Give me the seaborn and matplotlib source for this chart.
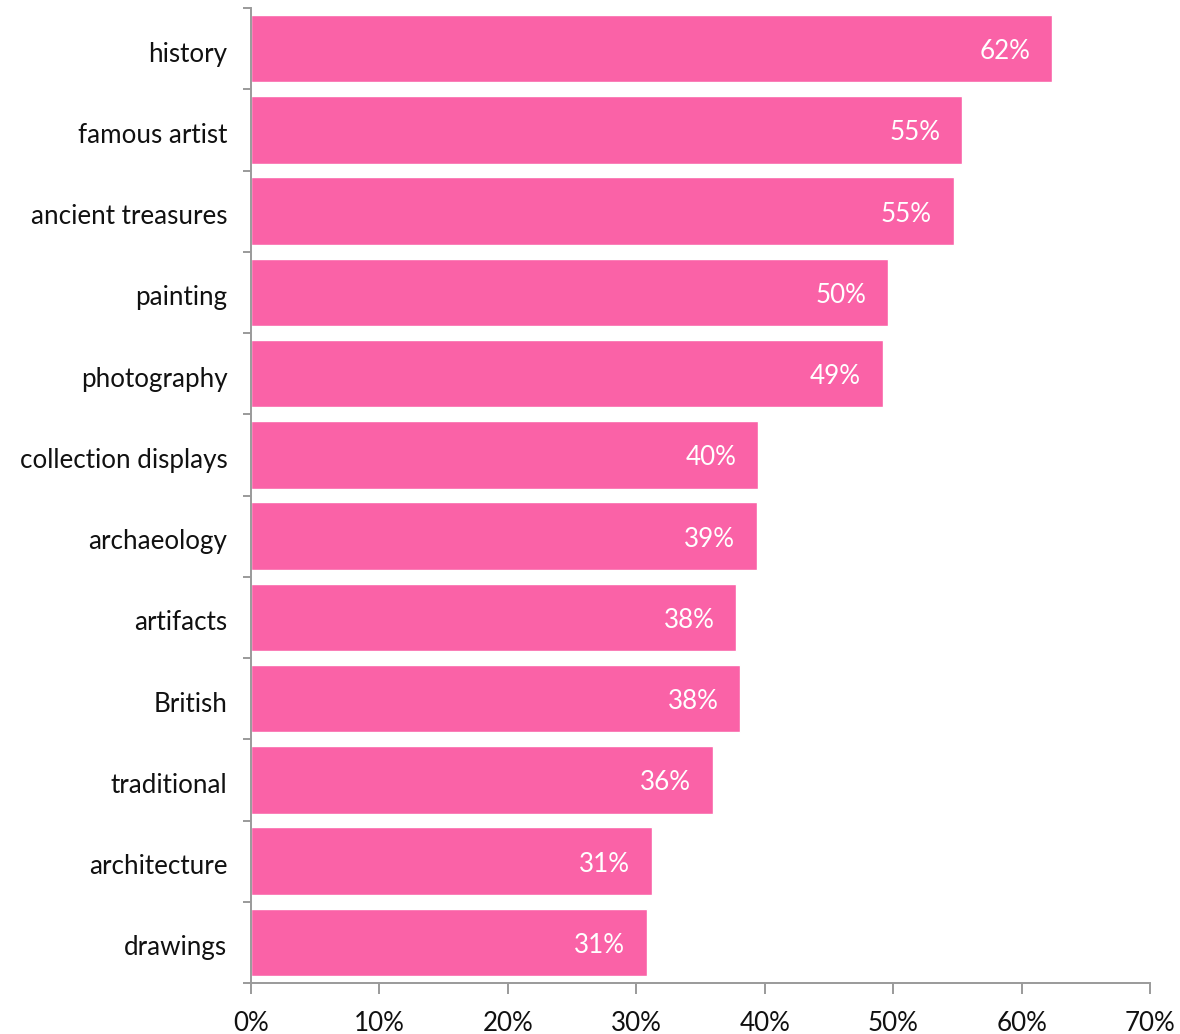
import matplotlib
matplotlib.use("Agg")
import matplotlib.pyplot as plt
import matplotlib.transforms as mtransforms
import seaborn as sns
import pandas as pd
import numpy as np
from matplotlib.ticker import FixedLocator, PercentFormatter

categories = [
    "history", "famous artist", "ancient treasures", "painting", "photography",
    "collection displays", "archaeology", "artifacts", "British", "traditional",
    "architecture", "drawings",
]
shares = [62.4, 55.4, 54.7, 49.6, 49.2, 39.5, 39.4, 37.8, 38.1, 36.0, 31.2, 30.8]
x_ticks = [0, 10, 20, 30, 40, 50, 60, 70]

sns.set_theme(style="white")
plt.rcParams["font.family"] = ["Lato", "DejaVu Sans"]

bar_color = "#FA62A7"
axis_gray = "#9A9A9A"
text_color = "#111111"
font_size = 18.7

df = pd.DataFrame({"category": categories, "share": shares})

fig = plt.figure(figsize=(11.8, 10.34), dpi=100)
ax = fig.add_axes([251 / 1180, 1 - 983 / 1034, (1150 - 251) / 1180, (983 - 8) / 1034])

sns.barplot(data=df, x="share", y="category", order=categories, color=bar_color,
            saturation=1, width=0.83, ax=ax)

# value labels, white, right-aligned just inside each bar's end
for patch, val in zip(ax.patches, shares):
    y = patch.get_y() + patch.get_height() / 2
    ax.annotate(f"{round(val):d}%", xy=(val, y), xytext=(-22, -3),
                textcoords="offset pixels", ha="right", va="center",
                color="white", fontsize=font_size)

ax.set_xlim(0, 70)
ax.set_ylim(len(categories) - 0.5, -0.5)
ax.set_xticks(x_ticks)
ax.xaxis.set_major_formatter(PercentFormatter(decimals=0))
ax.set_xlabel("")
ax.set_ylabel("")

# category separators as outward minor ticks on the left spine
ax.yaxis.set_minor_locator(FixedLocator(np.arange(-0.5, len(categories), 1.0)))
ax.tick_params(axis="y", which="major", length=0, pad=17, labelsize=font_size, labelcolor=text_color)
ax.tick_params(axis="y", which="minor", length=6, width=1.4, color=axis_gray, direction="out", left=True)
ax.tick_params(axis="x", which="major", length=8, width=1.4, color=axis_gray, direction="out",
               bottom=True, pad=12, labelsize=font_size, labelcolor=text_color)

# nudge category labels slightly down
shift = mtransforms.ScaledTranslation(0, -3 / 100, fig.dpi_scale_trans)
for lbl in ax.get_yticklabels():
    lbl.set_transform(lbl.get_transform() + shift)

for side in ["top", "right"]:
    ax.spines[side].set_visible(False)
for side in ["left", "bottom"]:
    ax.spines[side].set_color(axis_gray)
    ax.spines[side].set_linewidth(1.4)

fig.savefig("out.png", dpi=100)
